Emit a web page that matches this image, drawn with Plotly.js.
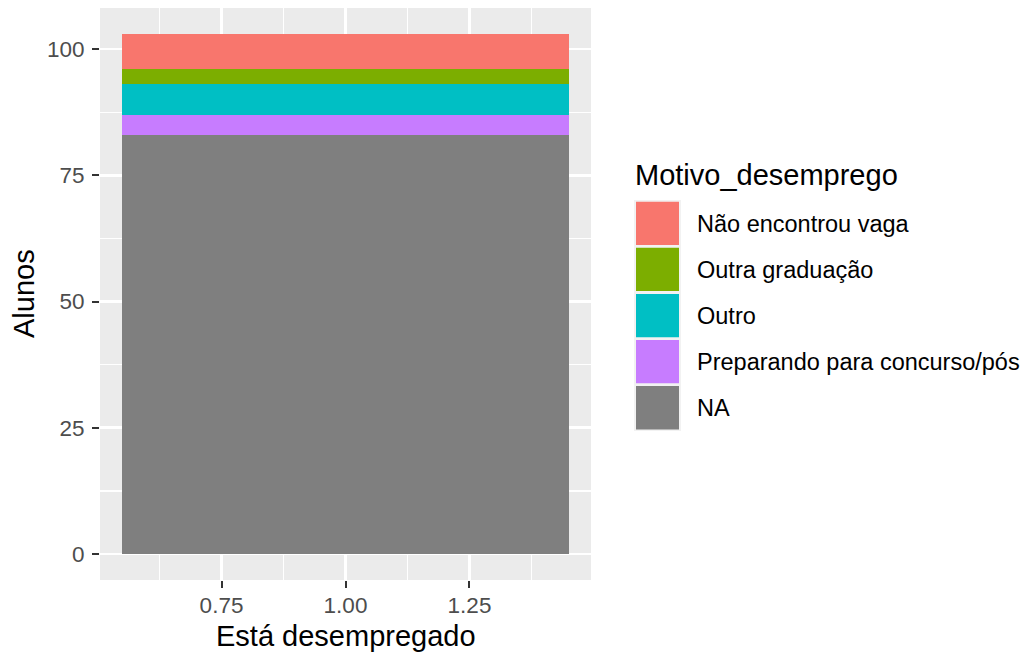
<!DOCTYPE html>
<html>
<head>
<meta charset="utf-8">
<script src="https://cdn.plot.ly/plotly-3.0.1.min.js"></script>
<style>html,body{margin:0;padding:0;background:#fff;}#chart{width:1032px;height:657px;}</style>
</head>
<body>
<div id="chart"></div>
<script>
// Data (stack order bottom -> top)
const categories = ["NA", "Preparando para concurso/pós", "Outro", "Outra graduação", "Não encontrou vaga"];
const counts = [83, 4, 6, 3, 7];
const colors = ["#7F7F7F", "#C77CFF", "#00BFC4", "#7CAE00", "#F8766D"];
const xValue = [1];
const xTickVals = [0.75, 1.00, 1.25];
const xTickText = ["0.75", "1.00", "1.25"];
const yTickVals = [0, 25, 50, 75, 100];
const legendTitle = "Motivo_desemprego";
const xTitle = "Está desempregado";
const yTitle = "Alunos";

const W = 1032, H = 657;
const L = 100, R = 591, T = 8, B = 580;
const px2x = p => (p - L) / (R - L);
const py2y = p => (B - p) / (B - T);
const FONT = "Liberation Sans, Arial, Helvetica, sans-serif";
const TXT = 23.5, TTL = 29, TICK = 22.5;

const traces = categories.map((c, i) => ({
  type: "bar",
  x: xValue,
  y: [counts[i]],
  name: c,
  width: 0.9,
  marker: {color: colors[i], line: {width: 0}},
  showlegend: false,
  hoverinfo: "y+name"
}));

const total = counts.reduce((a, b) => a + b, 0);
const pad = total * 0.05;

// Custom ggplot-like legend
const shapes = [];
const annotations = [];
const keyL = 634, keyR = 681, keyTop = 200, pitch = 46.1;
shapes.push({type: "rect", xref: "paper", yref: "paper",
  x0: px2x(keyL), x1: px2x(keyR), y0: py2y(keyTop), y1: py2y(keyTop + pitch * categories.length + 0.5),
  fillcolor: "#F2F2F2", line: {width: 0}, layer: "above"});
const legendOrder = categories.map((c, i) => i).reverse();
legendOrder.forEach((idx, row) => {
  const top = keyTop + 1.7 + row * pitch;
  shapes.push({type: "rect", xref: "paper", yref: "paper",
    x0: px2x(636), x1: px2x(679), y0: py2y(top + 43.3), y1: py2y(top),
    fillcolor: colors[idx], line: {width: 0}, layer: "above"});
  annotations.push({xref: "paper", yref: "paper", x: px2x(695), y: py2y(top + 22),
    xanchor: "left", yanchor: "middle", showarrow: false, text: categories[idx],
    font: {family: FONT, size: TXT, color: "#000000"}});
});
annotations.push({xref: "paper", yref: "paper", x: px2x(633), y: py2y(175),
  xanchor: "left", yanchor: "middle", showarrow: false, text: legendTitle,
  font: {family: FONT, size: TTL, color: "#000000"}});
annotations.push({xref: "paper", yref: "paper", x: px2x(345.5), y: py2y(636),
  xanchor: "center", yanchor: "middle", showarrow: false, text: xTitle,
  font: {family: FONT, size: TTL, color: "#000000"}});
annotations.push({xref: "paper", yref: "paper", x: px2x(24), y: py2y(294),
  xanchor: "center", yanchor: "middle", showarrow: false, text: yTitle, textangle: -90,
  font: {family: FONT, size: TTL, color: "#000000"}});

const layout = {
  width: W, height: H,
  margin: {l: L, r: W - R, t: T, b: H - B, pad: 0},
  paper_bgcolor: "#FFFFFF",
  plot_bgcolor: "#EBEBEB",
  barmode: "stack",
  bargap: 0,
  showlegend: false,
  font: {family: FONT},
  xaxis: {
    range: [0.505, 1.495],
    tickvals: xTickVals, ticktext: xTickText,
    ticks: "outside", ticklen: 7, tickwidth: 2, tickcolor: "#333333",
    ticklabelstandoff: -2,
    tickfont: {family: FONT, size: TICK, color: "#4D4D4D"},
    showgrid: true, gridcolor: "#FFFFFF", gridwidth: 2.6,
    zeroline: false, showline: false,
    minor: {tick0: 0.125, dtick: 0.25, showgrid: true, gridcolor: "#FFFFFF", gridwidth: 1.3, ticks: ""}
  },
  yaxis: {
    range: [-pad, total + pad],
    tickvals: yTickVals,
    ticks: "outside", ticklen: 7, tickwidth: 2, tickcolor: "#333333",
    ticklabelstandoff: 3,
    tickfont: {family: FONT, size: TICK, color: "#4D4D4D"},
    showgrid: true, gridcolor: "#FFFFFF", gridwidth: 2.6,
    zeroline: false, showline: false,
    minor: {tick0: 12.5, dtick: 25, showgrid: true, gridcolor: "#FFFFFF", gridwidth: 1.3, ticks: ""}
  },
  shapes: shapes,
  annotations: annotations
};

Plotly.newPlot("chart", traces, layout, {displayModeBar: false, staticPlot: true});
</script>
</body>
</html>
